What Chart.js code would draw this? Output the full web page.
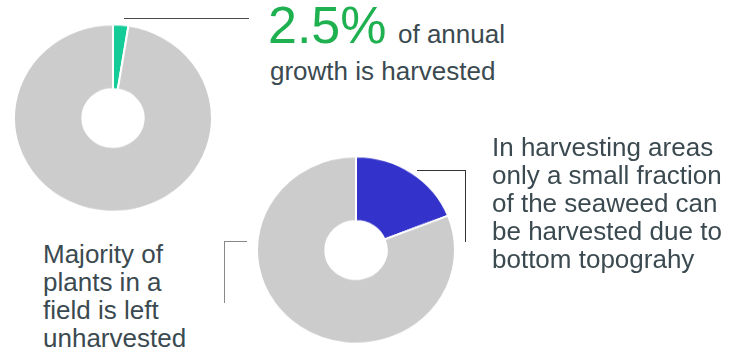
<!DOCTYPE html>
<html>
<head>
<meta charset="utf-8">
<script src="https://cdn.jsdelivr.net/npm/chart.js@4"></script>
<style>
  html, body { margin: 0; padding: 0; background: #fff; }
  #page { position: relative; width: 738px; height: 358px; overflow: hidden;
          font-family: "Liberation Sans", Arial, sans-serif; color: #3b4a50; }
  .box { position: absolute; width: 200px; height: 200px; transform: scaleY(0.945); transform-origin: 50% 50%; }
  .txt { position: absolute; font-size: 26px; line-height: 28px; white-space: nowrap; }
  .big { position: absolute; font-size: 52px; line-height: 52px; color: #1fb050; white-space: nowrap; }
  .ln { position: absolute; }
</style>
</head>
<body>
<div id="page">
  <div class="box" style="left:13px; top:17.5px;">
    <canvas id="growth-chart" width="200" height="200"></canvas>
  </div>
  <div class="box" style="left:255.5px; top:150px;">
    <canvas id="area-chart" width="200" height="200"></canvas>
  </div>

  <!-- connector lines -->
  <div class="ln" style="left:124px; top:18px; width:125px; height:0; border-top:1.5px solid #4a4a4a;"></div>
  <div class="ln" style="left:417px; top:170px; width:49px; height:0; border-top:1.5px solid #333;"></div>
  <div class="ln" style="left:465px; top:170px; width:0; height:72px; border-left:1.5px solid #333;"></div>
  <div class="ln" style="left:224px; top:241px; width:23px; height:0; border-top:1.5px solid #888;"></div>
  <div class="ln" style="left:224px; top:241px; width:0; height:62px; border-left:1.5px solid #888;"></div>

  <div class="big" id="share-label" style="left:268px; top:-1px;"></div>
  <div class="txt" style="left:398px; top:20px;">of annual</div>
  <div class="txt" style="left:270px; top:57px;">growth is harvested</div>

  <div class="txt" style="left:492px; top:133px;">In harvesting areas<br>only a small fraction<br>of the seaweed can<br>be harvested due to<br>bottom topograhy</div>

  <div class="txt" style="left:43px; top:240px;">Majority of<br>plants in a<br>field is left<br>unharvested</div>
</div>

<script>
// Share of annual growth that gets harvested (percent)
const growthLabels = ['Harvested', 'Left in the field'];
const growthShare = [2.5, 97.5];

// Share of a harvesting area that can actually be harvested (percent)
const areaLabels = ['Harvestable', 'Not harvestable'];
const areaShare = [19, 81];

const grey = '#cccccc';

document.getElementById('share-label').textContent = growthShare[0] + '%';

function makeDoughnut(id, labels, values, colour) {
    const ctx = document.getElementById(id).getContext('2d');
    return new Chart(ctx, {
        type: 'doughnut',
        data: {
            labels: labels,
            datasets: [{
                data: values,
                backgroundColor: [colour, grey],
                borderColor: '#ffffff',
                borderWidth: 2
            }]
        },
        options: {
            responsive: false,
            animation: false,
            cutout: '31%',
            rotation: 0,
            plugins: {
                legend: { display: false },
                tooltip: { enabled: false }
            }
        }
    });
}

makeDoughnut('growth-chart', growthLabels, growthShare, '#14cc97');
makeDoughnut('area-chart', areaLabels, areaShare, '#3333cc');
</script>
</body>
</html>
